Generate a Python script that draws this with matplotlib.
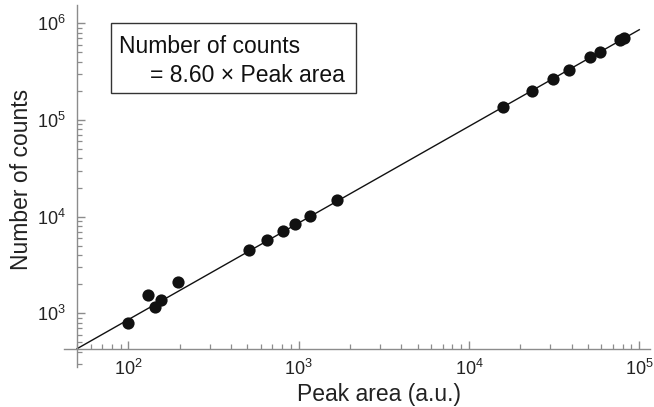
import numpy as np
import matplotlib
matplotlib.use('Agg')
import matplotlib.pyplot as plt
from matplotlib.patches import Rectangle
from matplotlib.ticker import LogLocator, FixedLocator

plt.rcParams['font.family'] = ['Liberation Sans', 'DejaVu Sans']
plt.rcParams['mathtext.fontset'] = 'custom'
plt.rcParams['mathtext.rm'] = 'Liberation Sans'
plt.rcParams['mathtext.it'] = 'Liberation Sans'

# data
peak_area = [100, 130, 144, 156, 197, 508, 651, 804, 951, 1160, 1670,
             15800, 23300, 31300, 38600, 51300, 58700, 76700, 80900]
counts = [794, 1560, 1160, 1386, 2130, 4480, 5690, 7100, 8320, 10200, 15000,
          135000, 199000, 263000, 326000, 449000, 501000, 667000, 700000]
slope = 8.60
fit_x = [50, 1e5]
x_ticks = [1e2, 1e3, 1e4, 1e5]
x_ticklabels = ['$10^{2}$', '$10^{3}$', '$10^{4}$', '$10^{5}$']
y_ticks = [1e3, 1e4, 1e5, 1e6]
y_ticklabels = ['$10^{3}$', '$10^{4}$', '$10^{5}$', '$10^{6}$']

W, H = 654, 407
fig = plt.figure(figsize=(W / 100, H / 100), dpi=100)
ax = fig.add_axes([64 / W, 1 - 367 / H, (650 - 64) / W, (367 - 5) / H])
ax.set_xscale('log')
ax.set_yscale('log')
ax.set_xlim(41.9, 1.156e5)
ax.set_ylim(278, 1.55e6)

axcol = '#8c8c8c'
for s in ['top', 'right']:
    ax.spines[s].set_visible(False)
# axes cross at (50, 430), Mathematica style
ax.spines['left'].set_position(('data', 50))
ax.spines['bottom'].set_position(('data', 430))
for s in ['left', 'bottom']:
    ax.spines[s].set_color(axcol)
    ax.spines[s].set_linewidth(1.0)

fx = np.array(fit_x)
ax.plot(fx, slope * fx, color='#111111', lw=1.0, zorder=2)
ax.plot(peak_area, counts, 'o', color='#111111', ms=8.8, mec='none', zorder=3)

ax.xaxis.set_major_locator(FixedLocator(x_ticks))
ax.set_xticklabels(x_ticklabels)
ax.yaxis.set_major_locator(FixedLocator(y_ticks))
ax.set_yticklabels(y_ticklabels)
ax.xaxis.set_minor_locator(LogLocator(base=10, subs=np.arange(2, 10)))
ax.yaxis.set_minor_locator(LogLocator(base=10, subs=np.arange(2, 10)))
ax.xaxis.set_minor_formatter(plt.NullFormatter())
ax.yaxis.set_minor_formatter(plt.NullFormatter())
ax.tick_params(which='major', direction='in', length=6, width=1.0, color=axcol,
               labelsize=13, labelcolor='#222222')
ax.tick_params(which='minor', direction='in', length=3.5, width=0.9, color=axcol)
ax.tick_params(axis='x', which='major', pad=7)
ax.tick_params(axis='y', which='major', pad=8)

fig.text(22 / W, 1 - 179 / H, 'Number of counts', rotation=90, ha='center', va='center',
         fontsize=16.5, color='#222222')
fig.text(379 / W, 1 - 394 / H, 'Peak area (a.u.)', ha='center', va='center',
         fontsize=16.5, color='#222222')

fig.add_artist(Rectangle((111 / W, 1 - 93 / H), (356 - 111) / W, (93 - 23) / H,
                         transform=fig.transFigure, fill=False, ec='#333333', lw=1.0))
fig.text(119 / W, 1 - 52.7 / H, 'Number of counts', ha='left', va='baseline',
         fontsize=16.5, color='#111111')
fig.text(150 / W, 1 - 81.7 / H, '= 8.60 \u00d7 Peak area', ha='left', va='baseline',
         fontsize=16.5, color='#111111')

fig.savefig('out.png', dpi=100)
